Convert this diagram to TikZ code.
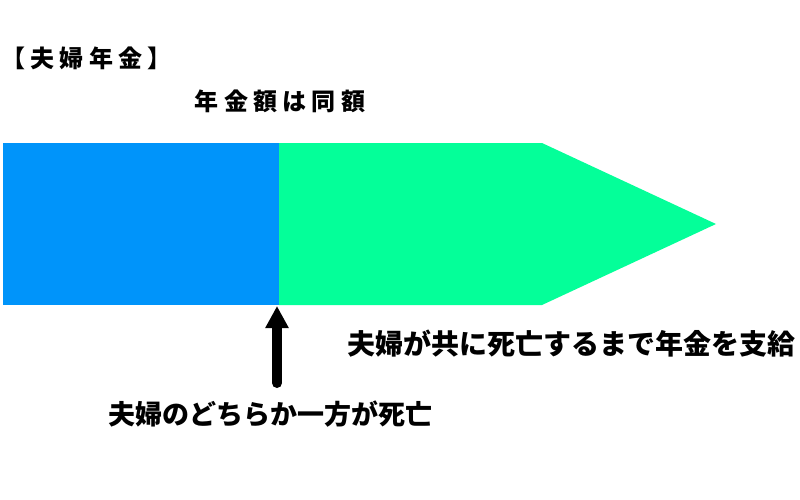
\documentclass[tikz,border=0pt]{standalone}
\usepackage{fontspec}
\setmainfont{Noto Sans CJK JP}
\usetikzlibrary{arrows.meta}
\definecolor{cblue}{RGB}{0,148,250}
\definecolor{cgreen}{RGB}{4,255,153}
\tikzset{
  lbl/.style={inner sep=0pt, text=black, font=\fontsize{#1}{#1}\selectfont\bfseries},
  lbl/.default=26,
  spaced/.style={font=\fontsize{24}{24}\selectfont\bfseries\addfontfeature{LetterSpace=22}},
  bigarrow/.style={line width=10pt, line cap=round, -{Triangle[length=22pt,width=22pt]}},
}
\begin{document}
\begin{tikzpicture}[x=1pt,y=-1pt]
\useasboundingbox (0,0) rectangle (800,500);
\fill[cblue] (3,143) rectangle (279,305);
\fill[cgreen] (279,143) -- (542,143) -- (716,224) -- (542,305) -- (279,305) -- cycle;
\coordinate (death) at (277,306);
\coordinate (tail) at (277,383);
\node[lbl, spaced, anchor=west] (title) at (1,58) {【夫婦年金】};
\node[lbl, spaced] (same) at (280,101) {年金額は同額};
\node[lbl=28] (until) at (571,344) {夫婦が共に死亡するまで年金を支給};
\node[lbl=27] (one) at (270,414) {夫婦のどちらか一方が死亡};
\draw[bigarrow] (tail) -- (death);
\end{tikzpicture}
\end{document}
